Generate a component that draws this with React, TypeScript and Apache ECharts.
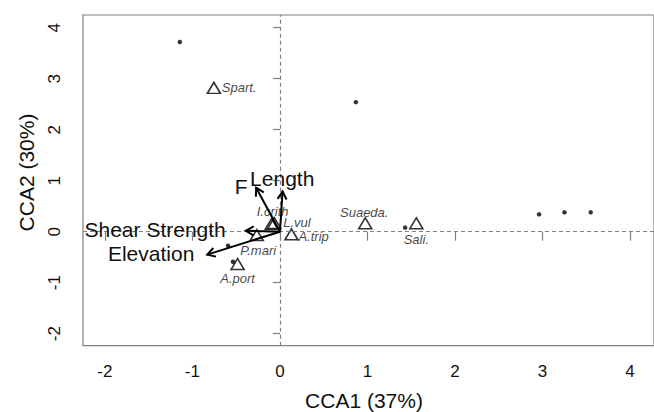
import React, { useEffect, useRef } from "react";
import * as echarts from "echarts";

// Site scores (dots)
const siteX = [-1.144, 0.867, 2.96, 3.25, 3.55, 1.43, -0.593, -0.537];
const siteY = [3.72, 2.54, 0.34, 0.38, 0.38, 0.08, -0.275, -0.588];

// Species scores (triangles)
const speciesNames = ["Spart.", "Suaeda.", "Sali.", "I.crith", "L.vul", "A.trip", "P.mari", "A.port"];
const speciesX = [-0.755, 0.974, 1.558, -0.095, -0.065, 0.131, -0.265, -0.484];
const speciesY = [2.82, 0.165, 0.165, 0.15, 0.17, -0.051, -0.065, -0.634];

// Environmental vectors (arrows)
const envNames = ["F", "Length", "Shear Strength", "Elevation"];
const envX = [-0.272, 0.03, -0.39, -0.831];
const envY = [0.863, 0.79, 0.02, -0.45];
const envLabelX = [-0.444, 0.026, -1.426, -1.472];
const envLabelY = [0.896, 1.05, 0.043, -0.437];

// Axis ticks
const xTicks = [-2, -1, 0, 1, 2, 3, 4];
const yTicks = [-2, -1, 0, 1, 2, 3, 4];

// label placement for species (align, dx, dy) – layout only
const speciesLabelLayout: [string, number, number][] = [
  ["left", 8, 0],
  ["center", -1, -10.6],
  ["center", 0, 16],
  ["center", 1, -12.3],
  ["left", 9, -1],
  ["left", 7, 2],
  ["center", 1.4, 15.7],
  ["center", 0, 14],
];

const FONT = "'Liberation Sans', Arial, Helvetica, sans-serif";
const TEXT = "#111111";
const FRAME = "#808080";

export default function App() {
  const ref = useRef<HTMLDivElement>(null);
  useEffect(() => {
    if (!ref.current) return;
    const chart = echarts.init(ref.current, null, { renderer: "svg" });

    const speciesData = speciesNames.map((n, i) => ({
      name: n,
      value: [speciesX[i], speciesY[i]],
      label: {
        position: "inside",
        align: speciesLabelLayout[i][0],
        verticalAlign: "middle",
        offset: [speciesLabelLayout[i][1], speciesLabelLayout[i][2]],
      },
    }));

    const envData = envNames.map((n, i) => ({
      name: n,
      value: [envX[i], envY[i], envLabelX[i], envLabelY[i]],
    }));

    const option: any = {
      animation: false,
      backgroundColor: "#ffffff",
      grid: {
        left: 83,
        top: 15,
        right: -5,
        bottom: 66.3,
        show: true,
        borderColor: FRAME,
        borderWidth: 1.2,
        backgroundColor: "transparent",
      },
      xAxis: {
        type: "value",
        min: -2.25,
        max: 4.273,
        axisLine: { show: false },
        splitLine: { show: false },
        axisTick: {
          show: true,
          customValues: xTicks,
          length: 9,
          lineStyle: { color: FRAME, width: 1.2 },
        },
        axisLabel: {
          customValues: xTicks,
          fontSize: 17,
          fontFamily: FONT,
          color: TEXT,
          margin: 17,
        },
      },
      yAxis: {
        type: "value",
        min: -2.235,
        max: 4.249,
        axisLine: { show: false },
        splitLine: { show: false },
        axisTick: {
          show: true,
          customValues: yTicks,
          length: 7,
          lineStyle: { color: FRAME, width: 1.2 },
        },
        axisLabel: {
          customValues: yTicks,
          rotate: 90,
          fontSize: 17,
          fontFamily: FONT,
          color: TEXT,
          margin: 20,
        },
      },
      graphic: [
        {
          type: "text",
          x: 364,
          y: 400.8,
          style: {
            text: "CCA1 (37%)",
            fontSize: 21,
            fontFamily: FONT,
            fill: TEXT,
            textAlign: "center",
            textVerticalAlign: "middle",
          },
        },
        {
          type: "text",
          x: 26,
          y: 172.5,
          rotation: Math.PI / 2,
          style: {
            text: "CCA2 (30%)",
            fontSize: 21,
            fontFamily: FONT,
            fill: TEXT,
            textAlign: "center",
            textVerticalAlign: "middle",
          },
        },
      ],
      series: [
        {
          type: "scatter",
          name: "sites",
          symbol: "circle",
          symbolSize: 4.5,
          itemStyle: { color: "#000" },
          data: siteX.map((x, i) => [x, siteY[i]]),
          z: 3,
          markLine: {
            silent: true,
            symbol: "none",
            label: { show: false },
            lineStyle: { color: FRAME, width: 1.2, type: [4, 3] },
            data: [{ xAxis: 0 }, { yAxis: 0 }],
          },
        },
        {
          type: "scatter",
          name: "species",
          symbol: "triangle",
          symbolSize: [13, 11],
          itemStyle: { color: "rgba(0,0,0,0)", borderColor: "#000", borderWidth: 1.6 },
          label: {
            show: true,
            formatter: "{b}",
            fontStyle: "italic",
            fontSize: 13,
            fontFamily: FONT,
            color: TEXT,
          },
          data: speciesData,
          z: 4,
        },
        {
          type: "custom",
          name: "env",
          data: envData,
          z: 5,
          renderItem: (params: any, api: any) => {
            const x = api.value(0);
            const y = api.value(1);
            const lx = api.value(2);
            const ly = api.value(3);
            const name = envNames[params.dataIndex];
            const p0 = api.coord([0, 0]);
            const p1 = api.coord([x, y]);
            const pl = api.coord([lx, ly]);
            const ang = Math.atan2(p1[1] - p0[1], p1[0] - p0[0]);
            const hl = 9;
            const ha = Math.PI / 6;
            const h1 = [p1[0] - hl * Math.cos(ang - ha), p1[1] - hl * Math.sin(ang - ha)];
            const h2 = [p1[0] - hl * Math.cos(ang + ha), p1[1] - hl * Math.sin(ang + ha)];
            return {
              type: "group",
              children: [
                {
                  type: "line",
                  shape: { x1: p0[0], y1: p0[1], x2: p1[0], y2: p1[1] },
                  style: { stroke: "#000", lineWidth: 2 },
                },
                {
                  type: "polyline",
                  shape: { points: [h1, p1, h2] },
                  style: { stroke: "#000", lineWidth: 2, fill: null },
                },
                {
                  type: "text",
                  x: pl[0],
                  y: pl[1],
                  style: {
                    text: name,
                    fontSize: 21,
                    fontFamily: FONT,
                    fill: TEXT,
                    textAlign: "center",
                    textVerticalAlign: "middle",
                  },
                },
              ],
            };
          },
        },
      ],
    };

    chart.setOption(option);
    return () => chart.dispose();
  }, []);

  return (
    <div
      ref={ref}
      style={{ position: "absolute", left: 0, top: 0, width: 654, height: 412, background: "#fff" }}
    />
  );
}
